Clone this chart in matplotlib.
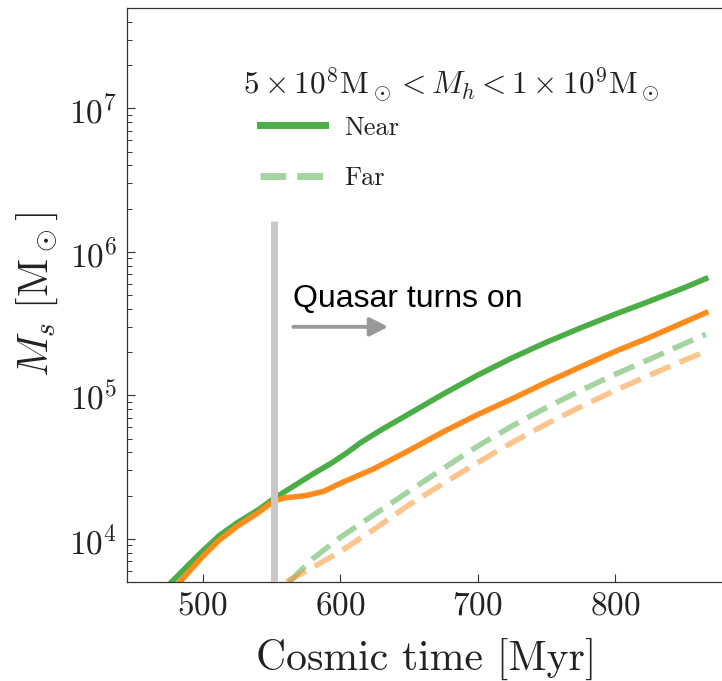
import matplotlib
matplotlib.use("Agg")
import matplotlib.pyplot as plt
from matplotlib.lines import Line2D
import numpy as np

plt.rcParams['font.family'] = 'serif'
plt.rcParams['font.serif'] = ['cmr10']
plt.rcParams['mathtext.fontset'] = 'cm'
plt.rcParams['axes.formatter.use_mathtext'] = True
plt.rcParams['axes.unicode_minus'] = False

# near halos, solid lines
t_near_green = [477.5, 490, 500, 512, 525, 540, 552, 565, 580, 595, 605, 615, 630, 650,
                675, 700, 725, 750, 775, 800, 825, 850, 866]
ms_near_green = [5.01e3, 6.61e3, 8.22e3, 1.05e4, 1.29e4, 1.58e4, 1.91e4, 2.29e4, 2.82e4,
                 3.43e4, 3.98e4, 4.68e4, 5.75e4, 7.41e4, 1.02e5, 1.38e5, 1.82e5, 2.34e5,
                 2.95e5, 3.67e5, 4.52e5, 5.60e5, 6.50e5]
t_near_orange = [483.5, 490, 500, 512, 525, 540, 552, 560, 575, 588, 600, 625, 650, 675,
                 700, 725, 750, 775, 800, 825, 850, 866]
ms_near_orange = [5.01e3, 5.89e3, 7.50e3, 9.77e3, 1.22e4, 1.51e4, 1.84e4, 1.93e4, 2.0e4,
                  2.14e4, 2.43e4, 3.09e4, 4.12e4, 5.56e4, 7.33e4, 9.44e4, 1.23e5, 1.58e5,
                  2.02e5, 2.53e5, 3.22e5, 3.76e5]

# far halos, dashed lines
t_far_green = [563, 580, 600, 625, 650, 675, 700, 725, 750, 775, 800, 825, 850, 866]
ms_far_green = [5.01e3, 7.24e3, 1.02e4, 1.48e4, 2.14e4, 3.09e4, 4.42e4, 6.10e4, 8.22e4,
                1.08e5, 1.40e5, 1.78e5, 2.28e5, 2.66e5]
t_far_orange = [561, 580, 600, 625, 650, 675, 700, 725, 750, 775, 800, 825, 850, 866]
ms_far_orange = [5.01e3, 6.31e3, 8.13e3, 1.17e4, 1.72e4, 2.43e4, 3.39e4, 4.68e4, 6.31e4,
                 8.32e4, 1.08e5, 1.38e5, 1.75e5, 2.02e5]

quasar_t = 552

green = '#4bad45'
orange = '#fd8c1c'

fig = plt.figure(figsize=(7.22, 6.81), dpi=100)
ax = fig.add_axes([127/722, 1-582/681, (725-127)/722, (582-8)/681])

ax.plot(t_near_green, ms_near_green, color=green, lw=4)
ax.plot(t_near_orange, ms_near_orange, color=orange, lw=4)
ax.plot(t_far_green, ms_far_green, color=green, lw=4, alpha=0.5, dashes=(4, 1.8))
ax.plot(t_far_orange, ms_far_orange, color=orange, lw=4, alpha=0.5, dashes=(4, 1.8))

ax.axvline(quasar_t, ymin=0, ymax=0.629, lw=5, color='#c8c8c8', zorder=3,
           solid_capstyle='butt')

ax.text(566, 4.14e5, 'Quasar turns on', family='Liberation Sans', fontsize=23,
        va='baseline', ha='left')
ax.annotate('', xy=(635, 3.0e5), xytext=(566, 3.0e5),
            arrowprops=dict(arrowstyle='-|>,head_length=0.55,head_width=0.28',
                            mutation_scale=20, lw=2.8, color='#999999',
                            shrinkA=0, shrinkB=0))

ax.set_yscale('log')
ax.set_xlim(445, 880)
ax.set_ylim(5e3, 5e7)
ax.set_xticks([500, 600, 700, 800])

ax.tick_params(which='both', direction='in', labelsize=24, pad=7, colors='#333333',
               labelcolor='#222222')
ax.tick_params(which='major', length=6, width=0.8)
ax.tick_params(which='minor', length=3.6, width=0.7)
for sp in ax.spines.values():
    sp.set_linewidth(0.9)
    sp.set_color('#333333')

ax.set_xlabel('Cosmic time [Myr]', fontsize=30, color='#222222')
ax.set_ylabel(r'$M_s\ [\mathrm{M}_\odot]$', fontsize=30, color='#222222')
ax.xaxis.set_label_coords(0.5, -0.097)
ax.yaxis.set_label_coords(-0.112, 0.5)

handles = [Line2D([], [], color=green, lw=5),
           Line2D([], [], color=green, lw=5, alpha=0.5, ls='--')]
leg = ax.legend(handles, ['Near', 'Far'], loc='upper left', frameon=False,
                bbox_to_anchor=(260/722, 1-116/681), bbox_transform=fig.transFigure,
                borderpad=0, borderaxespad=0, handlelength=2.45, handletextpad=0.75,
                labelspacing=1.0, fontsize=19)
for txt in leg.get_texts():
    txt.set_color('#222222')
fig.text(243/722, 1-85/681,
         r'$5 \times 10^8 \mathrm{M}_\odot < M_h < 1 \times 10^9 \mathrm{M}_\odot$',
         fontsize=22.5, ha='left', va='center', color='#222222')

fig.savefig('out.png', dpi=100)
